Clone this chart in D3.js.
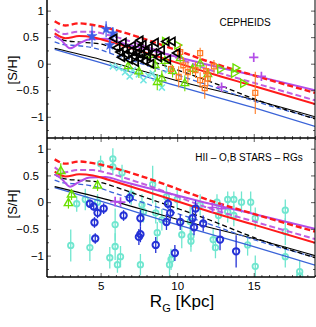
<!DOCTYPE html>
<html>
<head>
<meta charset="utf-8">
<script src="https://cdn.jsdelivr.net/npm/d3@7"></script>
<style>
  body { margin: 0; background: #fff; }
  svg { display: block; }
  text { font-family: "Liberation Sans", Arial, sans-serif; fill: #000; }
</style>
</head>
<body>
<script>
// model curves [R, S/H]  (same in both panels)
var redDashed = [[2,0.80],[2.7,0.72],[3.6,0.76],[4.5,0.73],[5.6,0.66],[7.5,0.50],[10,0.25],[12.15,0.03],[15,-0.22],[19,-0.55]];
var redSolid = [[2,0.57],[2.7,0.48],[3.6,0.52],[4.5,0.50],[5.5,0.42],[8,0.20],[12.15,-0.18],[15,-0.42],[19,-0.76]];
var violetDashed = [[2,0.65],[2.6,0.56],[3.5,0.60],[4.5,0.60],[5.5,0.54],[8,0.32],[12.15,-0.12],[15,-0.36],[19,-0.69]];
var violetSolid = [[2,0.52],[2.4,0.45],[3,0.29],[3.6,0.38],[4.3,0.46],[5.3,0.47],[6.5,0.38],[9,0.20],[12.15,-0.03],[15,-0.22],[19,-0.50]];
var blackDashed = [[2,0.52],[2.6,0.44],[3.5,0.41],[5,0.37],[6,0.28],[8.2,0.06],[12,-0.32],[15,-0.66],[19,-1.04]];
var blackSolid = [[2,0.29],[5,0.08],[10,-0.32],[15,-0.68],[19,-1.00]];
var blueDashed = [[2,0.41],[2.6,0.36],[3.5,0.34],[4.5,0.30],[6,0.16],[8,-0.03],[12,-0.40],[15,-0.70],[19,-1.03]];
var blueSolid = [[2,0.27],[5,0.02],[10,-0.42],[15,-0.83],[19,-1.18]];

// CEPHEIDS panel data
var cephStars = [[4.44,0.52,0.20],[5.36,0.65,0.15],[5.8,0.57,0.12],[5.6,0.35,0.15]];
var cephCross = [[5.8,-0.05],[6.2,-0.08],[6.6,-0.16],[6.9,-0.24],[7.1,-0.12],[7.5,-0.20],[7.8,-0.31],[8.1,-0.22],[8.4,-0.18],[8.6,-0.27],[9.0,-0.45],[9.4,-0.12]];
var cephBlackTri = [[5.9,0.48],[6.1,0.30],[6.3,0.22],[6.4,0.12],[6.5,0.40],[6.6,0.27],[6.7,0.18],[6.9,0.08],[7.0,0.24],[7.1,0.34],[7.2,0.14],[7.3,0.03],[7.4,0.20],[7.5,0.29],[7.6,0.10],[7.6,0.44],[7.7,0.18],[7.8,0.36],[7.9,0.05],[8.0,0.24],[8.1,0.14],[8.2,0.30],[8.3,0.00],[8.5,0.20],[8.6,0.40],[8.8,0.12],[9.0,0.26],[9.3,0.42],[9.4,0.08],[9.7,0.42],[10.0,0.20]];
var cephGreenUp = [[6.8,-0.05,0.10],[7.5,-0.15,0.12],[8.2,0.16,0.10],[8.56,-0.03,0.12],[8.7,-0.35,0.15],[9.0,-0.28,0.15],[9.2,0.05,0.10],[9.7,-0.14,0.12],[10.2,0.10,0.10],[10.5,-0.37,0.15],[11.0,-0.10,0.10],[11.5,0.00,0.10],[12.0,-0.20,0.12]];
var cephGreenRight = [[9.2,0.42],[10.0,0.35],[12.8,-0.10],[13.7,-0.18],[13.8,-0.08],[14.3,-0.37]];
var cephOrange = [[9.6,-0.10,0.10],[10.1,-0.25,0.20],[10.2,0.22,0.15],[10.4,-0.03,0.15],[10.7,-0.16,0.20],[11.2,-0.12,0.15],[11.5,0.20,0.10],[11.5,-0.31,0.15],[11.8,-0.46,0.20],[11.9,-0.14,0.12],[12.0,-0.28,0.15],[12.4,-0.05,0.12],[15.1,-0.55,0.40]];
var cephViolet = [[12.9,-0.44],[15.0,0.12],[15.5,-0.24]];

// HII - O,B STARS - RGs panel data
var hiiCircles = [[3.05,-0.81,0.30],[3.44,-0.03,0.15],[4.0,0.05,0.20],[4.3,-0.85,0.25],[4.8,0.00,0.15],[5.0,0.72,0.15],[5.8,0.81,0.20],[5.8,0.66,0.15],[5.95,-0.42,0.30],[5.95,-0.83,0.25],[5.6,-1.04,0.20],[6.1,-1.17,0.15],[6.3,-1.02,0.20],[6.4,0.55,0.15],[7.0,0.15,0.20],[7.6,-1.17,0.20],[7.7,-0.05,0.20],[7.8,-0.18,0.20],[8.4,0.33,0.35],[8.6,-0.20,0.20],[8.7,-0.57,0.20],[9.0,-0.33,0.20],[9.3,0.10,0.20],[9.5,-1.17,0.20],[9.6,-1.07,0.20],[10.0,0.05,0.20],[10.3,-0.61,0.25],[10.85,-0.36,0.30],[10.9,-0.64,0.20],[10.9,-0.73,0.20],[11.5,-0.05,0.20],[12.35,-0.70,0.20],[12.5,-0.85,0.20],[12.6,0.00,0.15],[12.7,-0.25,0.20],[13.3,0.05,0.15],[13.3,-0.18,0.20],[13.7,0.05,0.15],[13.7,-0.25,0.20],[14.2,0.00,0.20],[14.6,-0.80,0.20],[14.8,0.00,0.20],[15.1,-0.30,0.20],[15.1,-1.20,0.20],[17.06,-0.15,0.20],[17.06,-0.55,0.25],[17.06,-1.02,0.20],[18.0,-1.30,0.20],[18.0,-1.38,0.10]];
var obBlue = [[4.3,-0.03,0.08],[4.55,-0.08,0.08],[4.6,-0.38,0.10],[4.65,-0.68,0.10],[4.8,-0.20,0.10],[5.2,-0.12,0.10],[6.5,-0.25,0.10],[6.9,0.08,0.10],[7.5,-0.65,0.15],[7.6,-0.30,0.15],[7.6,-0.60,0.15],[8.6,-0.80,0.15],[9.3,-0.37,0.15],[9.4,-0.03,0.10],[9.55,-0.20,0.15],[9.85,-0.95,0.15],[10.2,-0.37,0.15],[11.0,-0.30,0.15],[11.1,-0.47,0.15],[11.2,-0.12,0.15],[11.7,-0.40,0.15],[12.8,-0.70,0.20],[13.85,-0.92,0.30]];
var rgGreen = [[2.4,0.58,0.15],[2.9,-0.02,0.10],[3.1,0.14,0.10],[4.8,0.31,0.10]];
var rgViolet = [[5.95,0.01],[6.3,0.00],[12.3,-0.10],[12.9,-0.12]];

var yTicks = [-1, -0.5, 0, 0.5, 1];
var xTicks = [5, 10, 15];

var W = 316, H = 327;
var X0 = 47, X1 = 315, YMID = 138, YBOT = 277;

var svg = d3.select('body').append('svg').attr('width', W).attr('height', H);

var x = d3.scaleLinear().domain([1.5, 19]).range([X0, X1]);
var yTop = d3.scaleLinear().domain([-1.4, 1.2]).range([YMID, 0]);
var yBot = d3.scaleLinear().domain([-1.4, 1.2]).range([YBOT, YMID]);

var C_RED = '#ff1a1a', C_VIO = '#b34ee8', C_VIO2 = '#c25fe0', C_BLUE = '#3a63d8',
    C_AQUA = '#6fe6cf', C_CYAN = '#72e6e2', C_GREEN = '#6ae000', C_ORANGE = '#ff7b25',
    C_DBLUE = '#2431d6', C_STAR = '#3d5ce6';

svg.append('defs').selectAll('clipPath').data(['top', 'bot']).enter()
  .append('clipPath').attr('id', function(d){ return 'clip-' + d; })
  .append('rect')
  .attr('x', X0).attr('width', X1 - X0)
  .attr('y', function(d){ return d == 'top' ? 0 : YMID; })
  .attr('height', function(d){ return d == 'top' ? YMID : YBOT - YMID; });

function drawModels(g, y)
{
  var line = d3.line().x(function(d){ return x(d[0]); }).y(function(d){ return y(d[1]); }).curve(d3.curveMonotoneX);
  var models = [
    [blueSolid, C_BLUE, 1.3, null],
    [blackSolid, '#000', 1.1, null],
    [blueDashed, C_BLUE, 1.3, '5,3'],
    [blackDashed, '#000', 1.3, '5,3'],
    [violetDashed, C_VIO2, 2, '6,3'],
    [violetSolid, C_VIO, 2, null],
    [redSolid, C_RED, 2, null],
    [redDashed, C_RED, 2.4, '6,3']
  ];
  models.forEach(function(m) {
    g.append('path').attr('d', line(m[0]))
      .attr('fill', 'none').attr('stroke', m[1]).attr('stroke-width', m[2])
      .attr('stroke-dasharray', m[3]);
  });
}

function errBars(g, y, data, color, w)
{
  g.selectAll(null).data(data).enter().append('line')
    .attr('x1', function(d){ return x(d[0]); }).attr('x2', function(d){ return x(d[0]); })
    .attr('y1', function(d){ return y(d[1] - d[2]); }).attr('y2', function(d){ return y(d[1] + d[2]); })
    .attr('stroke', color).attr('stroke-width', w);
}

function symbols(g, y, data, type, size, rot, stroke, fill, sw)
{
  g.selectAll(null).data(data).enter().append('path')
    .attr('d', d3.symbol().type(type).size(size))
    .attr('transform', function(d){ return 'translate(' + x(d[0]) + ',' + y(d[1]) + ') rotate(' + rot + ')'; })
    .attr('fill', fill).attr('stroke', stroke).attr('stroke-width', sw);
}

// ---- top panel: CEPHEIDS
var gt = svg.append('g').attr('clip-path', 'url(#clip-top)');
drawModels(gt, yTop);
errBars(gt, yTop, cephStars, C_STAR, 1.2);
symbols(gt, yTop, cephStars, d3.symbolStar, 32, 0, C_STAR, C_STAR, 0.5);
symbols(gt, yTop, cephCross, d3.symbolTimes, 26, 0, C_CYAN, 'none', 1.5);
errBars(gt, yTop, cephGreenUp, C_GREEN, 1.1);
symbols(gt, yTop, cephGreenUp, d3.symbolTriangle, 26, 0, C_GREEN, 'none', 1.3);
symbols(gt, yTop, cephGreenRight, d3.symbolTriangle, 28, 90, C_GREEN, 'none', 1.4);
errBars(gt, yTop, cephOrange, C_ORANGE, 1.1);
symbols(gt, yTop, cephOrange, d3.symbolSquare, 24, 0, C_ORANGE, 'none', 1.3);
symbols(gt, yTop, cephBlackTri, d3.symbolTriangle, 28, -90, '#000', 'none', 1.7);
symbols(gt, yTop, cephViolet, d3.symbolPlus, 30, 0, C_VIO, 'none', 1.7);

// ---- bottom panel: HII - O,B STARS - RGs
var gb = svg.append('g').attr('clip-path', 'url(#clip-bot)');
errBars(gb, yBot, hiiCircles, C_AQUA, 1.3);
symbols(gb, yBot, hiiCircles, d3.symbolCircle, 24, 0, C_AQUA, 'none', 1.8);
drawModels(gb, yBot);
errBars(gb, yBot, obBlue, C_DBLUE, 1.3);
symbols(gb, yBot, obBlue, d3.symbolCircle, 32, 0, C_DBLUE, 'none', 2);
errBars(gb, yBot, rgGreen, C_GREEN, 1.2);
symbols(gb, yBot, rgGreen, d3.symbolTriangle, 30, 0, C_GREEN, 'none', 1.4);
symbols(gb, yBot, rgViolet, d3.symbolPlus, 34, 0, C_VIO, 'none', 1.7);

// ---- axes
var fmt = function(d){ return d3.format('')(d).replace('-', '\u2212'); };
var minorY = d3.range(-1.25, 1.2, 0.25).filter(function(v){ return Math.abs(v * 2 - Math.round(v * 2)) > 0.01; });
var minorX = d3.range(2, 19.01, 0.5).filter(function(v){ return v % 5 != 0; });

[yTop, yBot].forEach(function(y) {
  var la = svg.append('g').attr('transform', 'translate(' + X0 + ',0)')
    .call(d3.axisLeft(y).tickValues(yTicks).tickSize(-4).tickPadding(3).tickFormat(fmt));
  la.selectAll('text').style('font-size', '11.5px')
    .attr('dx', function(d){ return Number.isInteger(d) ? 0 : -5; });
  svg.append('g').attr('transform', 'translate(' + X0 + ',0)')
    .call(d3.axisLeft(y).tickValues(minorY).tickSize(-2).tickFormat(''));
  svg.append('g').attr('transform', 'translate(' + X1 + ',0)')
    .call(d3.axisRight(y).tickValues(yTicks).tickSize(-4).tickFormat(''));
  svg.append('g').attr('transform', 'translate(' + X1 + ',0)')
    .call(d3.axisRight(y).tickValues(minorY).tickSize(-2).tickFormat(''));
});

// x ticks: shared middle axis and bottom axis
svg.append('g').attr('transform', 'translate(0,' + YMID + ')')
  .call(d3.axisBottom(x).tickValues(xTicks).tickSize(-4).tickFormat(''));
svg.append('g').attr('transform', 'translate(0,' + YMID + ')')
  .call(d3.axisBottom(x).tickValues(minorX).tickSize(-2).tickFormat(''));
svg.append('g').attr('transform', 'translate(0,' + YMID + ')')
  .call(d3.axisTop(x).tickValues(xTicks).tickSize(-4).tickFormat(''));
svg.append('g').attr('transform', 'translate(0,' + YMID + ')')
  .call(d3.axisTop(x).tickValues(minorX).tickSize(-2).tickFormat(''));
var ba = svg.append('g').attr('transform', 'translate(0,' + YBOT + ')')
  .call(d3.axisBottom(x).tickValues(xTicks).tickSize(-4).tickPadding(5));
ba.selectAll('text').style('font-size', '11.5px');
svg.append('g').attr('transform', 'translate(0,' + YBOT + ')')
  .call(d3.axisBottom(x).tickValues(minorX).tickSize(-2).tickFormat(''));

svg.selectAll('.domain').remove();
svg.selectAll('.tick line').attr('stroke', '#333').attr('stroke-width', 0.8);

// frame
svg.append('line').attr('x1', X0).attr('x2', X0).attr('y1', 0).attr('y2', YBOT).attr('stroke', '#000').attr('stroke-width', 1.5);
svg.append('line').attr('x1', X1).attr('x2', X1).attr('y1', 0).attr('y2', YBOT).attr('stroke', '#000').attr('stroke-width', 1);
svg.append('line').attr('x1', X0).attr('x2', X1).attr('y1', YMID).attr('y2', YMID).attr('stroke', '#000').attr('stroke-width', 1.5);
svg.append('line').attr('x1', X0).attr('x2', X1).attr('y1', YBOT).attr('y2', YBOT).attr('stroke', '#000').attr('stroke-width', 1.5);

// labels
svg.append('text').attr('x', 245).attr('y', 26).attr('text-anchor', 'middle')
  .style('font-size', '10px').text('CEPHEIDS');
svg.append('text').attr('x', 249).attr('y', 161).attr('text-anchor', 'middle')
  .style('font-size', '10px').text('HII \u2013 O,B STARS \u2013 RGs');

[70, 204].forEach(function(cy) {
  svg.append('text').attr('transform', 'translate(17,' + cy + ') rotate(-90)')
    .attr('text-anchor', 'middle').style('font-size', '13px').text('[S/H]');
});

var xl = svg.append('text').attr('x', 182).attr('y', 307).attr('text-anchor', 'middle').style('font-size', '17px');
xl.append('tspan').text('R');
xl.append('tspan').attr('dy', 5).style('font-size', '11px').text('G');
xl.append('tspan').attr('dy', -5).text(' [Kpc]');
</script>
</body>
</html>
